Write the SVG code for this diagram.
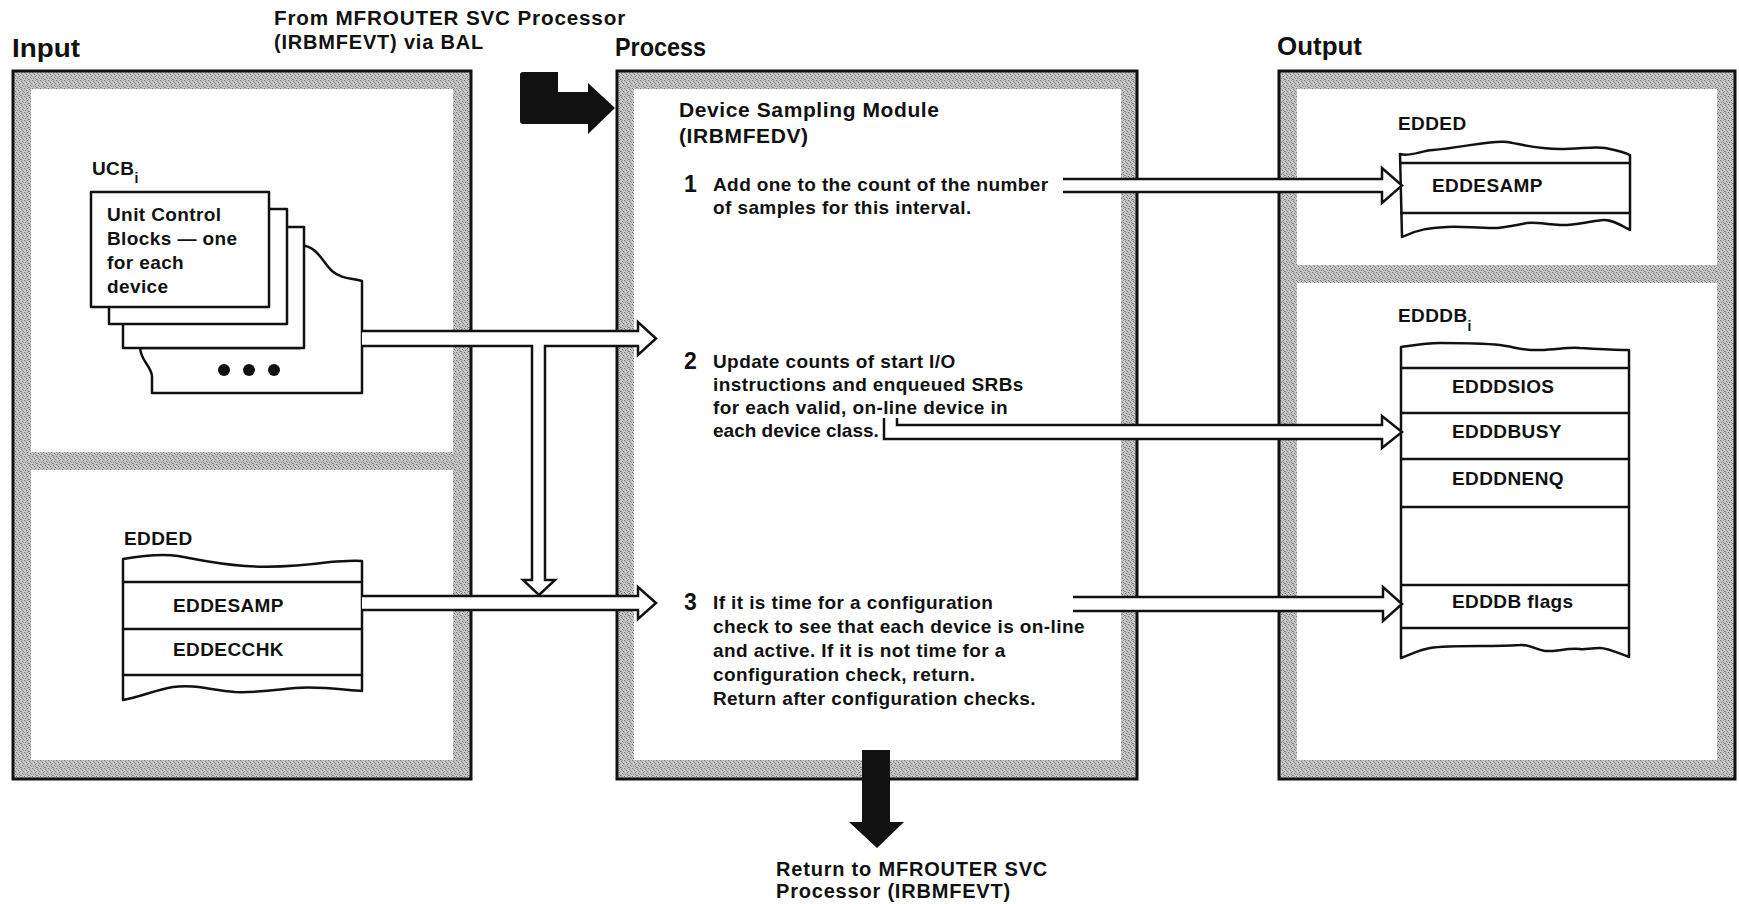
<svg xmlns="http://www.w3.org/2000/svg" width="1739" height="904" viewBox="0 0 1739 904">
  <defs>
    <!-- screened grey used for the panel frames -->
    <pattern id="halftone" width="8" height="8" patternUnits="userSpaceOnUse">
      <rect width="8" height="8" fill="#c8c8c8"/>
      <g fill="#6e6e6e">
        <rect x="0" y="0" width="1" height="1"/>
        <rect x="5" y="1" width="1" height="1"/>
        <rect x="2" y="2" width="1" height="1"/>
        <rect x="7" y="3" width="1" height="1"/>
        <rect x="3" y="4" width="1" height="1"/>
        <rect x="6" y="5" width="1" height="1"/>
        <rect x="1" y="6" width="1" height="1"/>
        <rect x="4" y="7" width="1" height="1"/>
      </g>
      <g fill="#999">
        <rect x="3" y="0" width="1" height="1"/>
        <rect x="1" y="1" width="1" height="1"/>
        <rect x="6" y="2" width="1" height="1"/>
        <rect x="4" y="3" width="1" height="1"/>
        <rect x="0" y="4" width="1" height="1"/>
        <rect x="2" y="5" width="1" height="1"/>
        <rect x="7" y="6" width="1" height="1"/>
        <rect x="5" y="7" width="1" height="1"/>
        <rect x="6" y="0" width="1" height="1"/>
        <rect x="3" y="6" width="1" height="1"/>
      </g>
    </pattern>
    <style>
      .frame{fill:url(#halftone);stroke:#111;stroke-width:3}
      .well{fill:#fff}
      .box{fill:#fff;stroke:#111;stroke-width:2.5;stroke-linejoin:round}
      .rule{stroke:#111;stroke-width:2.5;fill:none}
      .hollow{fill:#fff;stroke:#111;stroke-width:2.5;stroke-linejoin:miter}
      .solid{fill:#111}
      .t{font-family:"Liberation Sans",Arial,sans-serif;font-weight:bold;font-size:19px;letter-spacing:0.4px;fill:#111}
      .h{font-family:"Liberation Sans",Arial,sans-serif;font-weight:bold;font-size:21px;letter-spacing:0.6px;fill:#111}
      .num{font-family:"Liberation Sans",Arial,sans-serif;font-weight:bold;font-size:23px;fill:#111}
      .title{font-family:"Liberation Sans",Arial,sans-serif;font-weight:bold;font-size:25px;fill:#111}
      .note{font-family:"Liberation Sans",Arial,sans-serif;font-weight:bold;font-size:20px;letter-spacing:0.8px;fill:#111}
      .sub{font-size:14px}
    </style>
  </defs>

  <rect width="1739" height="904" fill="#fff"/>

  <!-- column headings -->
  <g id="headings">
    <text class="title" x="12" y="57" textLength="68" lengthAdjust="spacingAndGlyphs">Input</text>
    <text class="title" x="615" y="56" textLength="91" lengthAdjust="spacingAndGlyphs">Process</text>
    <text class="title" x="1277" y="55" textLength="85" lengthAdjust="spacingAndGlyphs">Output</text>
    <text class="note" x="274" y="25" textLength="352" lengthAdjust="spacingAndGlyphs">From MFROUTER SVC Processor</text>
    <text class="note" x="274" y="49">(IRBMFEVT) via BAL</text>
  </g>

  <!-- panels -->
  <g id="input-panel">
    <rect class="frame" x="13" y="71" width="458" height="708"/>
    <rect class="well" x="31" y="89" width="422" height="363"/>
    <rect class="well" x="31" y="470" width="422" height="290"/>
  </g>
  <g id="process-panel">
    <rect class="frame" x="617" y="71" width="520" height="708"/>
    <rect class="well" x="634" y="89" width="487" height="671"/>
  </g>
  <g id="output-panel">
    <rect class="frame" x="1279" y="71" width="456" height="708"/>
    <rect class="well" x="1297" y="89" width="420" height="176"/>
    <rect class="well" x="1297" y="283" width="420" height="477"/>
  </g>

  <!-- entry and exit of the module -->
  <g id="entry">
    <path class="solid" d="M523,72 H558 V92 H588 V83 L615,108 L588,134 V124 H523 Q520,124 520,121 V75 Q520,72 523,72 Z"/>
  </g>
  <g id="exit">
    <path class="solid" d="M862,750 H890 V822 H904 L877,848 L849,822 H862 Z"/>
    <text class="note" x="776" y="876">Return to MFROUTER SVC</text>
    <text class="note" x="776" y="898">Processor (IRBMFEVT)</text>
  </g>

  <!-- input: unit control blocks -->
  <g id="ucb">
    <text class="t" x="92" y="175">UCB<tspan class="sub" dy="8">i</tspan></text>
    <path class="box" d="M300,245 C318,246 322,262 332,271 C341,279 352,278 362,281 L362,393 L152,393 L152,376 C151,366 141,361 140,348 L300,348 Z"/>
    <rect class="box" x="123" y="227" width="181" height="121"/>
    <rect class="box" x="109" y="209" width="178" height="115"/>
    <rect class="box" x="91" y="192" width="178" height="115"/>
    <text class="t" x="107" y="221">Unit Control</text>
    <text class="t" x="107" y="245">Blocks — one</text>
    <text class="t" x="107" y="269">for each</text>
    <text class="t" x="107" y="293">device</text>
    <circle cx="224" cy="370" r="6" fill="#111"/>
    <circle cx="249" cy="370" r="6" fill="#111"/>
    <circle cx="274" cy="370" r="6" fill="#111"/>
  </g>

  <!-- input: EDDED -->
  <g id="edded-in">
    <text class="t" x="124" y="545">EDDED</text>
    <path class="box" d="M123,559 C140,556 160,553 178,556 C200,560 215,564 245,566 C275,568 300,566 330,562 C345,561 355,560 362,561 L362,691 C345,690 320,686 295,688 C275,690 255,693 235,692 C210,690 195,684 173,687 C155,690 140,697 123,700 Z"/>
    <line class="rule" x1="123" y1="582" x2="362" y2="582"/>
    <line class="rule" x1="123" y1="629" x2="362" y2="629"/>
    <line class="rule" x1="123" y1="675" x2="362" y2="675"/>
    <text class="t" x="173" y="612">EDDESAMP</text>
    <text class="t" x="173" y="656">EDDECCHK</text>
  </g>

  <!-- process steps -->
  <g id="module">
    <text class="h" x="679" y="117">Device Sampling Module</text>
    <text class="h" x="679" y="143">(IRBMFEDV)</text>
  </g>
  <g id="step1">
    <text class="num" x="684" y="192">1</text>
    <text class="t" x="713" y="191">Add one to the count of the number</text>
    <text class="t" x="713" y="214">of samples for this interval.</text>
  </g>
  <g id="step2">
    <text class="num" x="684" y="369">2</text>
    <text class="t" x="713" y="368">Update counts of start I/O</text>
    <text class="t" x="713" y="391">instructions and enqueued SRBs</text>
    <text class="t" x="713" y="414">for each valid, on-line device in</text>
    <text class="t" x="713" y="437" style="letter-spacing:0">each device class.</text>
  </g>
  <g id="step3">
    <text class="num" x="684" y="610">3</text>
    <text class="t" x="713" y="609">If it is time for a configuration</text>
    <text class="t" x="713" y="633">check to see that each device is on-line</text>
    <text class="t" x="713" y="657">and active.  If it is not time for a</text>
    <text class="t" x="713" y="681">configuration check, return.</text>
    <text class="t" x="713" y="705">Return after configuration checks.</text>
  </g>

  <!-- output: EDDED -->
  <g id="edded-out">
    <text class="t" x="1398" y="130">EDDED</text>
    <path class="box" d="M1400,154 C1410,157 1420,151 1433,150 C1460,148 1490,140 1507,142 C1520,144 1535,149 1560,149 C1580,149 1595,146 1605,148 C1615,150 1622,151 1630,155 L1630,230 C1622,226 1612,219 1603,220 C1585,222 1572,226 1560,225 C1545,224 1535,222 1527,223 C1515,225 1505,228 1493,228 C1475,228 1460,226 1447,227 C1430,228 1418,229 1402,237 Z"/>
    <line class="rule" x1="1400" y1="163" x2="1630" y2="163"/>
    <line class="rule" x1="1400" y1="213" x2="1630" y2="213"/>
    <text class="t" x="1432" y="192">EDDESAMP</text>
  </g>

  <!-- output: EDDDB -->
  <g id="edddb">
    <text class="t" x="1398" y="322">EDDDB<tspan class="sub" dy="9">i</tspan></text>
    <path class="box" d="M1401,347 C1415,345 1425,343 1440,343 C1470,343 1490,344 1500,345 C1515,347 1525,351 1540,350 C1560,349 1570,347 1580,348 C1600,349 1615,350 1629,350 L1629,657 C1618,653 1608,648 1600,648 C1590,648 1585,650 1580,649 C1565,648 1555,652 1545,651 C1535,649 1528,644 1520,645 C1505,646 1492,646 1480,646 C1460,646 1442,646 1430,648 C1418,650 1410,655 1401,658 Z"/>
    <line class="rule" x1="1401" y1="368" x2="1629" y2="368"/>
    <line class="rule" x1="1401" y1="413" x2="1629" y2="413"/>
    <line class="rule" x1="1401" y1="459" x2="1629" y2="459"/>
    <line class="rule" x1="1401" y1="507" x2="1629" y2="507"/>
    <line class="rule" x1="1401" y1="585" x2="1629" y2="585"/>
    <line class="rule" x1="1401" y1="628" x2="1629" y2="628"/>
    <text class="t" x="1452" y="393">EDDDSIOS</text>
    <text class="t" x="1452" y="438">EDDDBUSY</text>
    <text class="t" x="1452" y="485">EDDDNENQ</text>
    <text class="t" x="1452" y="608">EDDDB flags</text>
  </g>

  <!-- data flow arrows -->
  <g id="connectors">
    <!-- UCBs to step 2, with a branch down to step 3 -->
    <path class="hollow" d="M362,331 H638 V322 L656,338.5 L638,355 V346 H545 V580 H555 L539,595 L523,580 H532 V346 H362"/>
    <!-- EDDED to step 3 -->
    <path class="hollow" d="M362,596 H638 V587 L656,603 L638,619 V610 H362"/>
    <!-- step 1 to EDDESAMP -->
    <path class="hollow" d="M1063,179 H1382 V168 L1402,185.5 L1382,203 V192 H1063"/>
    <!-- step 2 to EDDDBUSY -->
    <path class="hollow" d="M884,418 V439 H1382 V448 L1402,432 L1382,416 V425 H897 V418"/>
    <!-- step 3 to EDDDB flags -->
    <path class="hollow" d="M1073,597 H1383 V587 L1402,604 L1383,621 V611 H1073"/>
  </g>
</svg>
